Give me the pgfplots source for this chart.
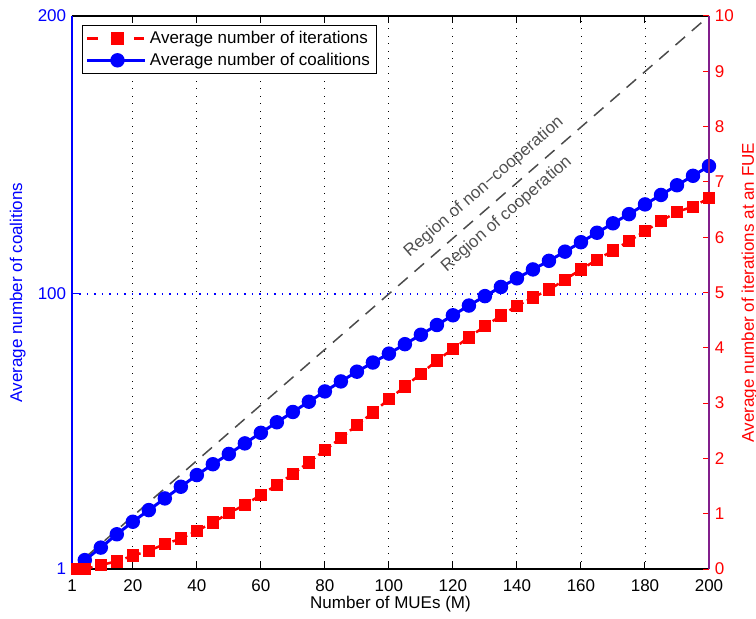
\documentclass[border=0pt]{standalone}
\usepackage{fontspec}
\setmainfont{Liberation Sans}
\usepackage{pgfplots}
\pgfplotsset{compat=1.18}
\definecolor{txtgray}{RGB}{80,80,80}
\definecolor{diaggray}{RGB}{75,75,75}
\definecolor{axpurple}{RGB}{130,30,140}
\begin{document}
\fontsize{17}{20}\selectfont
\begin{tikzpicture}
\useasboundingbox (-72pt,-50pt) rectangle (684pt,569pt);
% left axis (coalitions)
\begin{axis}[
  at={(0pt,0pt)}, anchor=south west,
  scale only axis, width=637pt, height=553pt,
  xmin=1, xmax=200, ymin=1, ymax=200,
  xtick={1,20,40,60,80,100,120,140,160,180,200},
  ytick={1,100,200},
  ytick pos=left,
  tick align=inside,
  major tick length=7pt,
  xmajorgrids=true,
  major grid style={black, line width=0.9pt, dash pattern=on 0.9pt off 6.6pt},
  separate axis lines,
  x axis line style={black, line width=1.4pt},
  y axis line style={blue, line width=1.4pt},
  x tick style={black, line width=1pt},
  y tick style={blue, line width=1pt},
  yticklabel style={blue},
  xticklabel style={yshift=-5pt},
  /pgf/number format/assume math mode=true,
  xlabel={Number of MUEs (M)},
  ylabel={Average number of coalitions},
  xlabel style={at={(axis description cs:0.5,-0.064)}, anchor=center},
  ylabel style={blue, at={(axis description cs:-0.085,0.5)}, anchor=center},
  legend style={at={(axis description cs:0.0157,0.9837)}, anchor=north west,
    draw=black, line width=1pt, fill=white, font=\fontsize{17}{20}\selectfont,
    nodes={inner sep=3.5pt}},
  legend cell align=left,
  legend image code/.code={\path (-4pt,0pt) -- (54pt,0pt);\draw[mark repeat=2,mark phase=2] plot coordinates {(0pt,0pt) (26.5pt,0pt) (53pt,0pt)};},
]
% horizontal grid line of the left axis at 100
\addplot[blue, line width=1.3pt, dash pattern=on 1.3pt off 6.2pt, forget plot] coordinates {(1,100) (200,100)};
\addlegendimage{red, line width=2.5pt, dash pattern=on 7pt off 16.5pt, mark=square*, mark size=5pt, mark options={solid}}
\addlegendentry{Average number of iterations}
\addplot[blue, line width=3pt, mark=*, mark size=5.7pt, mark options={solid}] coordinates {
(5,4.2) (10,8.7) (15,13.5) (20,18.0) (25,22.2) (30,26.4) (35,30.6) (40,34.8)
(45,38.7) (50,42.4) (55,46.2) (60,50.0) (65,53.8) (70,57.5) (75,61.2) (80,64.9)
(85,68.5) (90,72.0) (95,75.3) (100,78.5) (105,81.9) (110,85.3) (115,88.8) (120,92.3)
(125,95.8) (130,99.2) (135,102.5) (140,105.6) (145,108.8) (150,111.9) (155,115.2)
(160,118.6) (165,122.0) (170,125.4) (175,128.7) (180,132.2) (185,135.6) (190,139.1)
(195,142.5) (200,146.0)
};
\addlegendentry{Average number of coalitions}
\addplot[diaggray, line width=1.5pt, dash pattern=on 12.6pt off 9pt, forget plot] coordinates {(1,1) (200,200)};
\node[rotate=41, text=txtgray] at (axis cs:129.7,138.5) {Region of non−cooperation};
\node[rotate=41, text=txtgray] at (axis cs:136.8,128.7) {Region of cooperation};
\end{axis}
% right axis (iterations)
\begin{axis}[
  at={(0pt,0pt)}, anchor=south west,
  scale only axis, width=637pt, height=553pt,
  xmin=1, xmax=200, ymin=0, ymax=10,
  axis x line=none, axis y line*=right,
  ytick={0,1,2,3,4,5,6,7,8,9,10},
  tick align=inside,
  major tick length=6pt,
  y axis line style={axpurple, line width=1.4pt},
  y tick style={red, line width=1pt},
  yticklabel style={red},
  /pgf/number format/assume math mode=true,
  ylabel={Average number of iterations at an FUE},
  ylabel style={red, at={(axis description cs:1.0635,0.5)}, anchor=center},
]
\addplot[red, line width=2.5pt, dash pattern=on 6pt off 4pt, mark=square*, mark size=5pt, mark options={solid}] coordinates {
(2.5,0.0) (5,0.0) (10,0.07) (15,0.14) (20,0.24) (25,0.33) (30,0.45) (35,0.55) (40,0.69)
(45,0.84) (50,1.01) (55,1.16) (60,1.34) (65,1.52) (70,1.72) (75,1.93) (80,2.15)
(85,2.37) (90,2.60) (95,2.83) (100,3.07) (105,3.30) (110,3.53) (115,3.77) (120,3.98)
(125,4.19) (130,4.39) (135,4.58) (140,4.76) (145,4.91) (150,5.05) (155,5.23)
(160,5.42) (165,5.59) (170,5.76) (175,5.93) (180,6.11) (185,6.29) (190,6.46)
(195,6.55) (200,6.71)
};
\end{axis}
\end{tikzpicture}
\end{document}
